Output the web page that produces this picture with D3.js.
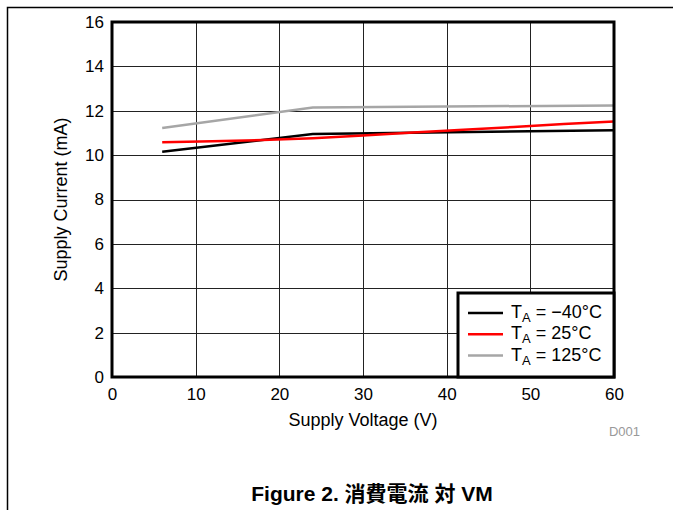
<!DOCTYPE html>
<html>
<head>
<meta charset="utf-8">
<script src="https://cdn.jsdelivr.net/npm/d3@7"></script>
<style>
  body { margin: 0; background: #fff; }
  svg { display: block; font-family: "Liberation Sans", Arial, sans-serif; }
</style>
</head>
<body>
<script>
// Supply current vs supply voltage, three temperatures
const voltsCold = [6, 24, 60];
const ampsCold = [10.15, 10.95, 11.12];

const voltsRoom = [6, 12, 18, 24, 30, 36, 42, 48, 54, 60];
const ampsRoom = [10.58, 10.62, 10.68, 10.76, 10.89, 11.02, 11.14, 11.27, 11.4, 11.52];

const voltsHot = [6, 24, 60];
const ampsHot = [11.22, 12.15, 12.24];

const xTicks = [0, 10, 20, 30, 40, 50, 60];
const yTicks = [0, 2, 4, 6, 8, 10, 12, 14, 16];

const seriesNames = ['\u221240\u00B0C', '25\u00B0C', '125\u00B0C'];
const seriesColors = ['#000000', '#ff0000', '#a6a6a6'];

const width = 673;
const height = 510;
const margin = { top: 22, right: 59, bottom: 133, left: 112 };

const svg = d3.select('body').append('svg')
  .attr('width', width)
  .attr('height', height);

// page frame
svg.append('path')
  .attr('d', `M7.5,${height} V7.5 H${width}`)
  .attr('fill', 'none')
  .attr('stroke', '#000')
  .attr('stroke-width', 1.5);

const x = d3.scaleLinear().domain([0, 60]).range([margin.left, width - margin.right]);
const y = d3.scaleLinear().domain([0, 16]).range([height - margin.bottom, margin.top]);

// grid
svg.append('g')
  .selectAll('line')
  .data(xTicks)
  .join('line')
  .attr('x1', (d) => Math.round(x(d)) + 0.5)
  .attr('x2', (d) => Math.round(x(d)) + 0.5)
  .attr('y1', y(16))
  .attr('y2', y(0))
  .attr('stroke', '#222')
  .attr('stroke-width', 1);

svg.append('g')
  .selectAll('line')
  .data(yTicks)
  .join('line')
  .attr('x1', x(0))
  .attr('x2', x(60))
  .attr('y1', (d) => Math.round(y(d)) + 0.5)
  .attr('y2', (d) => Math.round(y(d)) + 0.5)
  .attr('stroke', '#222')
  .attr('stroke-width', 1);

// axes labels via d3 axes
const xAxis = svg.append('g')
  .attr('transform', `translate(0,${y(0)})`)
  .call(d3.axisBottom(x).tickValues(xTicks).tickSize(0).tickPadding(11));
const yAxis = svg.append('g')
  .attr('transform', `translate(${x(0)},0)`)
  .call(d3.axisLeft(y).tickValues(yTicks).tickSize(0).tickPadding(8));

[xAxis, yAxis].forEach((a) => {
  a.select('.domain').remove();
  a.selectAll('text')
    .attr('font-family', '"Liberation Sans", Arial, sans-serif')
    .attr('font-size', 17)
    .attr('fill', '#000');
});

// data lines
const line = d3.line()
  .x((d) => x(d[0]))
  .y((d) => y(d[1]));

const series = [
  d3.zip(voltsCold, ampsCold),
  d3.zip(voltsRoom, ampsRoom),
  d3.zip(voltsHot, ampsHot),
];

svg.append('g')
  .selectAll('path')
  .data(series)
  .join('path')
  .attr('d', line)
  .attr('fill', 'none')
  .attr('stroke', (d, i) => seriesColors[i])
  .attr('stroke-width', 2.5);

// plot border
svg.append('rect')
  .attr('x', x(0))
  .attr('y', y(16))
  .attr('width', x(60) - x(0))
  .attr('height', y(0) - y(16))
  .attr('fill', 'none')
  .attr('stroke', '#000')
  .attr('stroke-width', 3);

// legend
const lgX = 458;
const lgY = 293;
const legend = svg.append('g');
legend.append('rect')
  .attr('x', lgX)
  .attr('y', lgY)
  .attr('width', x(60) - lgX)
  .attr('height', y(0) - lgY)
  .attr('fill', '#fff')
  .attr('stroke', '#000')
  .attr('stroke-width', 3);

const items = legend.selectAll('g.item')
  .data(seriesNames)
  .join('g')
  .attr('class', 'item')
  .attr('transform', (d, i) => `translate(0,${313 + i * 21.3})`);

items.append('line')
  .attr('x1', 468)
  .attr('x2', 503)
  .attr('stroke', (d, i) => seriesColors[i])
  .attr('stroke-width', 2.5);

const lt = items.append('text')
  .attr('x', 511)
  .attr('y', 5)
  .attr('font-size', 18)
  .attr('fill', '#000');
lt.append('tspan').text('T');
lt.append('tspan').attr('font-size', 13).attr('dy', 4).text('A');
lt.append('tspan').attr('dy', -4).text((d) => ` = ${d}`);

// axis titles
svg.append('text')
  .attr('x', (x(0) + x(60)) / 2)
  .attr('y', 426)
  .attr('text-anchor', 'middle')
  .attr('font-size', 18)
  .text('Supply Voltage (V)');

svg.append('text')
  .attr('transform', `translate(67,${(y(0) + y(16)) / 2}) rotate(-90)`)
  .attr('text-anchor', 'middle')
  .attr('font-size', 18)
  .text('Supply Current (mA)');

svg.append('text')
  .attr('x', 640)
  .attr('y', 436)
  .attr('text-anchor', 'end')
  .attr('font-size', 13)
  .attr('fill', '#999')
  .text('D001');

svg.append('text')
  .attr('x', 372)
  .attr('y', 501)
  .attr('text-anchor', 'middle')
  .attr('font-size', 21)
  .attr('font-weight', 'bold')
  .attr('font-family', '"Liberation Sans", Arial, "Noto Sans CJK JP", sans-serif')
  .text('Figure 2. 消費電流 対 VM');
</script>
</body>
</html>
